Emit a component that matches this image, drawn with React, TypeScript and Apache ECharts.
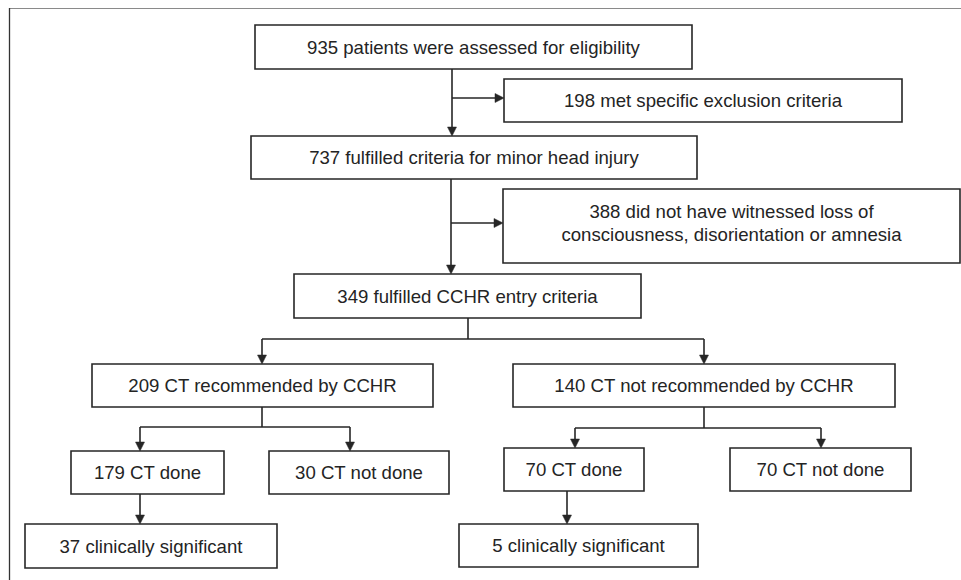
import React, { useEffect, useRef } from "react";
import * as echarts from "echarts";

// ---- Data (texts of the flowchart boxes) ----
const boxTexts: string[] = [
  "935 patients were assessed for eligibility",
  "198 met specific exclusion criteria",
  "737 fulfilled criteria for minor head injury",
  "388 did not have witnessed loss of\nconsciousness, disorientation or amnesia",
  "349 fulfilled CCHR entry criteria",
  "209 CT recommended by CCHR",
  "140 CT not recommended by CCHR",
  "179 CT done",
  "30 CT not done",
  "37 clinically significant",
  "70 CT done",
  "70 CT not done",
  "5 clinically significant",
];

// ---- Layout (x1, x2, y1, y2) per box ----
const boxLayout: number[][] = [
  [255, 692, 25, 69],
  [504, 902, 79, 122],
  [251, 697, 136, 179],
  [503, 960, 189, 263],
  [294, 641, 274, 318],
  [92, 433, 364, 407],
  [513, 895, 364, 407],
  [71, 224, 451, 494],
  [269, 449, 451, 494],
  [25, 277, 524, 568],
  [504, 644, 448, 491],
  [730, 911, 448, 491],
  [459, 698, 524, 567],
];

// connectors: polyline points, arrow at end if flag true
const connectors: { pts: number[][]; arrow: boolean }[] = [
  { pts: [[452, 69], [452, 136]], arrow: true },
  { pts: [[452, 98], [504, 98]], arrow: true },
  { pts: [[451, 179], [451, 274]], arrow: true },
  { pts: [[451, 223], [503, 223]], arrow: true },
  { pts: [[468, 318], [468, 339]], arrow: false },
  { pts: [[262, 339], [704, 339]], arrow: false },
  { pts: [[262, 339], [262, 364]], arrow: true },
  { pts: [[704, 339], [704, 364]], arrow: true },
  { pts: [[262, 407], [262, 427]], arrow: false },
  { pts: [[140, 427], [350, 427]], arrow: false },
  { pts: [[140, 427], [140, 451]], arrow: true },
  { pts: [[350, 427], [350, 451]], arrow: true },
  { pts: [[140, 494], [140, 524]], arrow: true },
  { pts: [[704, 407], [704, 428]], arrow: false },
  { pts: [[575, 428], [821, 428]], arrow: false },
  { pts: [[575, 428], [575, 448]], arrow: true },
  { pts: [[821, 428], [821, 448]], arrow: true },
  { pts: [[567, 491], [567, 524]], arrow: true },
];

const INK = "#262626";
const FONT = "'Liberation Sans', Arial, Helvetica, sans-serif";
const FS = 18.6;

function buildGraphics() {
  const els: any[] = [];
  // frame lines
  els.push({
    type: "line",
    shape: { x1: 9, y1: 8.5, x2: 961, y2: 8.5 },
    style: { stroke: "#8a8a8a", lineWidth: 1.2 },
  });
  els.push({
    type: "line",
    shape: { x1: 9.5, y1: 8, x2: 9.5, y2: 580 },
    style: { stroke: "#333", lineWidth: 1.3 },
  });

  boxLayout.forEach((b, i) => {
    const [x1, x2, y1, y2] = b;
    els.push({
      type: "rect",
      shape: { x: x1, y: y1, width: x2 - x1, height: y2 - y1 },
      style: { fill: "#fff", stroke: INK, lineWidth: 1.6 },
    });
    const multi = boxTexts[i].includes("\n");
    els.push({
      type: "text",
      x: (x1 + x2) / 2,
      y: multi ? (y1 + y2) / 2 - 3 : (y1 + y2) / 2,
      style: {
        text: boxTexts[i],
        fill: "#242424",
        fontSize: FS,
        fontFamily: FONT,
        align: "center",
        verticalAlign: "middle",
        lineHeight: 23,
      },
    });
  });

  connectors.forEach((c) => {
    const pts = c.pts.map((p) => p.slice());
    const n = pts.length;
    const end = pts[n - 1];
    const prev = pts[n - 2];
    const dx = Math.sign(end[0] - prev[0]);
    const dy = Math.sign(end[1] - prev[1]);
    const L = 9;
    const W = 4.5;
    if (c.arrow) {
      pts[n - 1] = [end[0] - dx * (L - 1), end[1] - dy * (L - 1)];
    }
    els.push({
      type: "polyline",
      shape: { points: pts },
      style: { stroke: INK, lineWidth: 1.6, fill: "none" },
    });
    if (c.arrow) {
      const bx = end[0] - dx * L;
      const by = end[1] - dy * L;
      const px = -dy;
      const py = dx;
      els.push({
        type: "polygon",
        shape: {
          points: [
            [end[0], end[1]],
            [bx + px * W, by + py * W],
            [bx - px * W, by - py * W],
          ],
        },
        style: { fill: INK, stroke: INK, lineWidth: 0.5 },
      });
    }
  });
  return els;
}

export default function App() {
  const ref = useRef<HTMLDivElement>(null);
  useEffect(() => {
    document.body.style.margin = "0";
    if (!ref.current) return;
    const chart = echarts.init(ref.current, undefined, { renderer: "svg" });
    chart.setOption({
      animation: false,
      backgroundColor: "#ffffff",
      graphic: { elements: buildGraphics() },
    });
    return () => chart.dispose();
  }, []);
  return <div ref={ref} style={{ width: 961, height: 580 }} />;
}
